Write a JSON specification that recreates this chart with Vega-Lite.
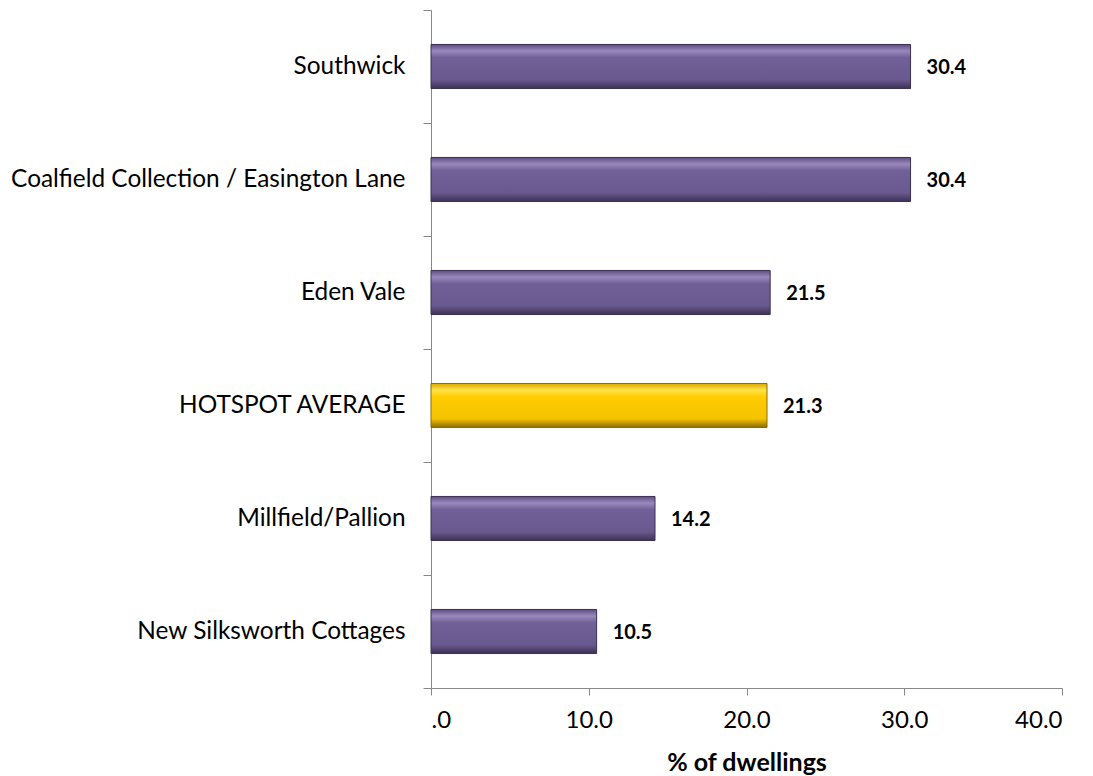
{
  "$schema": "https://vega.github.io/schema/vega-lite/v6.json",
  "width": 631,
  "height": 678,
  "autosize": {"type": "none"},
  "padding": {"left": 431, "top": 10, "right": 31, "bottom": 88},
  "background": "white",
  "config": {"view": {"stroke": null}, "font": "Lato"},
  "data": {"values": [
    {"area": "Southwick", "pct": 30.4},
    {"area": "Coalfield Collection / Easington Lane", "pct": 30.4},
    {"area": "Eden Vale", "pct": 21.5},
    {"area": "HOTSPOT AVERAGE", "pct": 21.3},
    {"area": "Millfield/Pallion", "pct": 14.2},
    {"area": "New Silksworth Cottages", "pct": 10.5}
  ]},
  "encoding": {
    "y": {"field": "area", "type": "nominal", "sort": null,
      "scale": {"paddingInner": 0, "paddingOuter": 0},
      "axis": {"title": null, "domainColor": "#888888", "tickColor": "#888888", "tickBand": "extent", "tickSize": 8,
        "labelPadding": 18, "labelFontSize": 24.4, "labelColor": "#000000", "labelFont": "Lato", "labelLimit": 600}},
    "x": {"field": "pct", "type": "quantitative",
      "scale": {"domain": [0, 40], "nice": false},
      "axis": {"values": [0, 10, 20, 30, 40], "grid": false, "domainColor": "#888888", "tickColor": "#888888", "tickSize": 7,
        "labelExpr": "datum.value == 0 ? '.0' : format(datum.value, '.1f')",
        "labelFontSize": 24, "labelColor": "#000000", "labelPadding": 13, "labelFont": "Lato",
        "title": "% of dwellings", "titleFontSize": 25, "titleFontWeight": "bold", "titleColor": "#000000", "titlePadding": 18, "titleFont": "Lato"}}
  },
  "layer": [
    {"mark": {"type": "bar", "strokeWidth": 1, "height": {"band": 0.39}},
     "encoding": {
       "fill": {
         "condition": {"test": "datum.area === 'HOTSPOT AVERAGE'",
           "value": {"gradient": "linear", "x1": 0, "y1": 0, "x2": 0, "y2": 1,
             "stops": [{"offset": 0, "color": "#d9a900"}, {"offset": 0.15, "color": "#ffe24a"}, {"offset": 0.3, "color": "#ffcc00"}, {"offset": 0.8, "color": "#f5c300"}, {"offset": 1, "color": "#8a6c00"}]}},
         "value": {"gradient": "linear", "x1": 0, "y1": 0, "x2": 0, "y2": 1,
           "stops": [{"offset": 0, "color": "#5e4d82"}, {"offset": 0.15, "color": "#9a89bc"}, {"offset": 0.3, "color": "#715f98"}, {"offset": 0.8, "color": "#6a598f"}, {"offset": 1, "color": "#3c3154"}]}
       },
       "stroke": {"condition": {"test": "datum.area === 'HOTSPOT AVERAGE'", "value": "#8a6c00"}, "value": "#3a3050"}
     }},
    {"mark": {"type": "text", "align": "left", "baseline": "middle", "dx": 16, "dy": 1, "fontSize": 20, "fontWeight": "bold", "font": "Lato", "color": "#000000"},
     "encoding": {"text": {"field": "pct", "type": "quantitative", "format": ".1f"}}}
  ]
}
